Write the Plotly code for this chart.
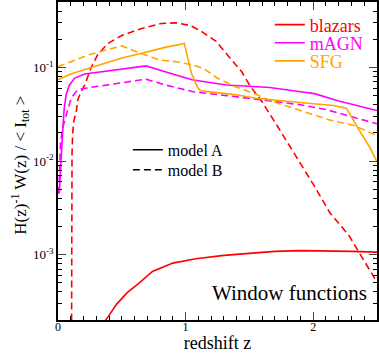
import plotly.graph_objects as go

# window functions (redshift z, H(z)^-1 W(z) / <I_tot>)
blazars_a_z = [0.35, 0.38, 0.46, 0.54, 0.64, 0.74, 0.9, 1.08, 1.3, 1.5, 1.7, 1.9, 2.1, 2.3, 2.5]
blazars_a = [1.82e-4, 2.04e-4, 2.95e-4, 3.89e-4, 5.0e-4, 6.6e-4, 8.1e-4, 9.0e-4,
             9.8e-4, 1.035e-3, 1.08e-3, 1.10e-3, 1.10e-3, 1.08e-3, 1.06e-3]

blazars_b_z = [0.104, 0.105, 0.107, 0.11, 0.115, 0.125, 0.145, 0.155, 0.18, 0.21, 0.26, 0.31,
               0.39, 0.5, 0.65, 0.81, 0.93, 1.04, 1.13, 1.24, 1.34, 1.44, 1.51, 1.59, 1.72,
               1.85, 2.02, 2.13, 2.28, 2.36, 2.48, 2.5]
blazars_b = [1e-5, 2e-4, 3e-3, 0.012, 0.02, 0.027, 0.035, 0.045, 0.055, 0.065, 0.10, 0.136,
             0.18, 0.22, 0.26, 0.295, 0.30, 0.28, 0.24, 0.19, 0.13, 0.09, 0.062, 0.045, 0.0235,
             0.0122, 0.0051, 0.0028, 0.0016, 0.00105, 5.6e-4, 5.3e-4]

magn_a_z = [0.01, 0.02, 0.03, 0.04, 0.05, 0.065, 0.09, 0.13, 0.21, 0.69, 0.84, 1.05, 1.32,
            1.66, 1.9, 2.01, 2.2, 2.5]
magn_a = [0.0045, 0.009, 0.015, 0.025, 0.038, 0.052, 0.065, 0.077, 0.085, 0.104, 0.090,
          0.074, 0.065, 0.061, 0.055, 0.0525, 0.0437, 0.0347]

magn_b_z = [0.006, 0.012, 0.02, 0.035, 0.053, 0.08, 0.105, 0.14, 0.18, 0.25, 0.69, 0.84,
            1.06, 1.32, 1.66, 1.9, 2.1, 2.3, 2.5]
magn_b = [0.0045, 0.008, 0.0157, 0.022, 0.0275, 0.037, 0.047, 0.055, 0.059, 0.061, 0.075,
          0.065, 0.055, 0.050, 0.0437, 0.040, 0.0355, 0.030, 0.025]

sfg_a_z = [0.0, 0.1, 0.235, 0.5, 0.65, 0.84, 0.99, 1.045, 1.096, 1.12, 1.385, 1.55, 2.17,
           2.26, 2.36, 2.44, 2.5]
sfg_a = [0.0741, 0.0851, 0.0977, 0.126, 0.141, 0.164, 0.181, 0.0871, 0.0603, 0.0562, 0.0513,
         0.0468, 0.0389, 0.0367, 0.0214, 0.0143, 0.0098]

sfg_b_z = [0.0, 0.235, 0.39, 0.5, 0.65, 0.8, 0.93, 1.06, 1.14, 1.25, 1.38, 1.54, 1.67, 1.88,
           2.14, 2.32, 2.5]
sfg_b = [0.102, 0.136, 0.155, 0.170, 0.141, 0.120, 0.115, 0.106, 0.0977, 0.0767, 0.0631,
         0.0525, 0.0437, 0.0355, 0.0272, 0.024, 0.0186]

populations = ["blazars", "mAGN", "SFG"]
colors = ["#ff0000", "#ff00ff", "#ffa500"]
models = ["model A", "model B"]

x_ticks = [0, 1, 2]
y_ticks = [1e-3, 1e-2, 1e-1]
y_ticktext = ["10<sup>-3</sup>", "10<sup>-2</sup>", "10<sup>-1</sup>"]

FONT = "Liberation Serif"
DASH = "7px,4px"

fig = go.Figure()

series = [
    (blazars_a_z, blazars_a, blazars_b_z, blazars_b),
    (magn_a_z, magn_a, magn_b_z, magn_b),
    (sfg_a_z, sfg_a, sfg_b_z, sfg_b),
]
for i, (za, ya, zb, yb) in enumerate(series):
    fig.add_trace(go.Scatter(x=za, y=ya, mode="lines", name=populations[i],
                             line=dict(color=colors[i], width=1.6),
                             legend="legend" if i == 0 else f"legend{i + 1}"))
    fig.add_trace(go.Scatter(x=zb, y=yb, mode="lines", showlegend=False,
                             line=dict(color=colors[i], width=1.6, dash=DASH)))

# black legend entries for the two models
fig.add_trace(go.Scatter(x=[None], y=[None], mode="lines", name=models[0],
                         line=dict(color="black", width=1.6), legend="legend4"))
fig.add_trace(go.Scatter(x=[None], y=[None], mode="lines", name=models[1],
                         line=dict(color="black", width=1.6, dash=DASH), legend="legend5"))


def leg(x, y, color, size):
    return dict(x=x, y=y, xanchor="left", yanchor="middle", bgcolor="rgba(0,0,0,0)",
                font=dict(family=FONT, size=size, color=color), borderwidth=0)


minor_y = [m * 10.0 ** k for k in range(-4, 0) for m in range(2, 10)]

fig.update_layout(
    width=379, height=353,
    margin=dict(l=58, r=2, t=2, b=33, autoexpand=False),
    paper_bgcolor="white", plot_bgcolor="white",
    font=dict(family=FONT, size=13, color="black"),
    legend=leg(0.664, 0.928, colors[0], 18),
    legend2=leg(0.664, 0.871, colors[1], 18),
    legend3=leg(0.664, 0.814, colors[2], 18),
    legend4=leg(0.219, 0.535, "black", 16),
    legend5=leg(0.219, 0.472, "black", 16),
    annotations=[
        dict(text="Window functions", xref="paper", yref="paper", x=0.975, y=0.04,
             xanchor="right", yanchor="bottom", showarrow=False,
             font=dict(family=FONT, size=21, color="black")),
        # y-axis title as a rotated annotation so it can be centred like the original
        dict(text="H(z)<sup>-1</sup> W(z) / < I<sub>tot</sub> >", xref="paper", yref="paper",
             x=-0.12, y=0.5, xanchor="center", yanchor="middle", textangle=-90,
             yshift=-4, showarrow=False, font=dict(family=FONT, size=17, color="black")),
    ],
)

fig.update_xaxes(
    range=[0, 2.5], tickvals=x_ticks, ticks="inside", ticklen=8, tickwidth=1,
    showline=True, linecolor="black", linewidth=1.5, mirror="allticks", showgrid=False,
    zeroline=False, tickfont=dict(size=12), automargin=False, ticklabelstandoff=-5,
    minor=dict(dtick=0.1, tick0=0, ticks="inside", ticklen=4, tickcolor="black", showgrid=False),
    title=dict(text="redshift z", font=dict(size=18), standoff=5),
)
fig.update_yaxes(
    type="log", range=[-3.7, -0.3], tickvals=y_ticks, ticktext=y_ticktext,
    ticks="inside", ticklen=8, tickwidth=1, showline=True, linecolor="black", linewidth=1.5,
    mirror="allticks", showgrid=False, zeroline=False, tickfont=dict(size=13), automargin=False,
    minor=dict(tickvals=minor_y, ticks="inside", ticklen=4, tickcolor="black", showgrid=False),
)

fig.write_html("out.html", config={"displayModeBar": False},
               post_script="document.body.style.margin='0';")
